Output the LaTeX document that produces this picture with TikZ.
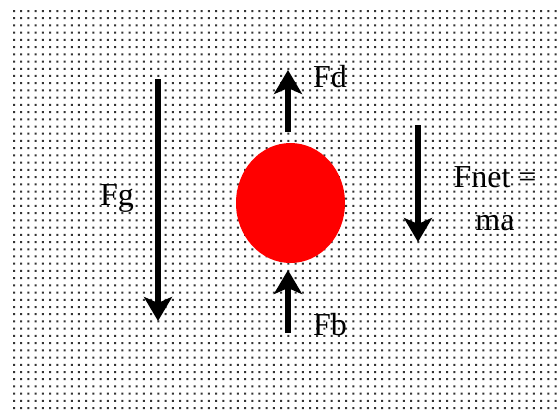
\documentclass[tikz,border=0pt]{standalone}
\usepackage{fontspec}
\setmainfont{Liberation Serif}
\usetikzlibrary{arrows.meta,shapes.geometric}
\begin{document}
\begin{tikzpicture}[x=1pt,y=-1pt,
  force/.style={line width=6pt, -{Stealth[length=24pt,width=28pt,inset=6pt]}},
  lbl/.style={font=\fontsize{32}{43}\selectfont, inner sep=0pt},
  dotfill/.style={fill=black!80}]
\useasboundingbox (0,0) rectangle (560,413);
\fill[white] (0,0) rectangle (560,413);
\fill[dotfill] \foreach \i in {0,...,75} { \foreach \j in {0,...,55} { ({13+7.22*\i},{10+7.22*\j}) rectangle ++(2,2) } };
\node[ellipse, fill=red, minimum width=109pt, minimum height=120pt, inner sep=0pt] (ball) at (290.5,203) {};
\coordinate (fgtop) at (158,79);
\coordinate (fgtip) at (158,321);
\coordinate (fdbot) at (288,132);
\coordinate (fdtip) at (288,70);
\coordinate (fbbot) at (288,333);
\coordinate (fbtip) at (288,270);
\coordinate (fntop) at (418,125);
\coordinate (fntip) at (418,242);
\draw[force] (fgtop) -- (fgtip);
\draw[force] (fdbot) -- (fdtip);
\draw[force] (fbbot) -- (fbtip);
\draw[force] (fntop) -- (fntip);
\node[lbl, anchor=base west] (fg) at (100,205) {Fg};
\node[lbl, anchor=base west] (fd) at (313,87) {Fd};
\node[lbl, anchor=base west] (fb) at (313,335) {Fb};
\node[lbl, anchor=base, align=center] (fnet) at (495,230) {Fnet =\\ma};
\end{tikzpicture}
\end{document}
